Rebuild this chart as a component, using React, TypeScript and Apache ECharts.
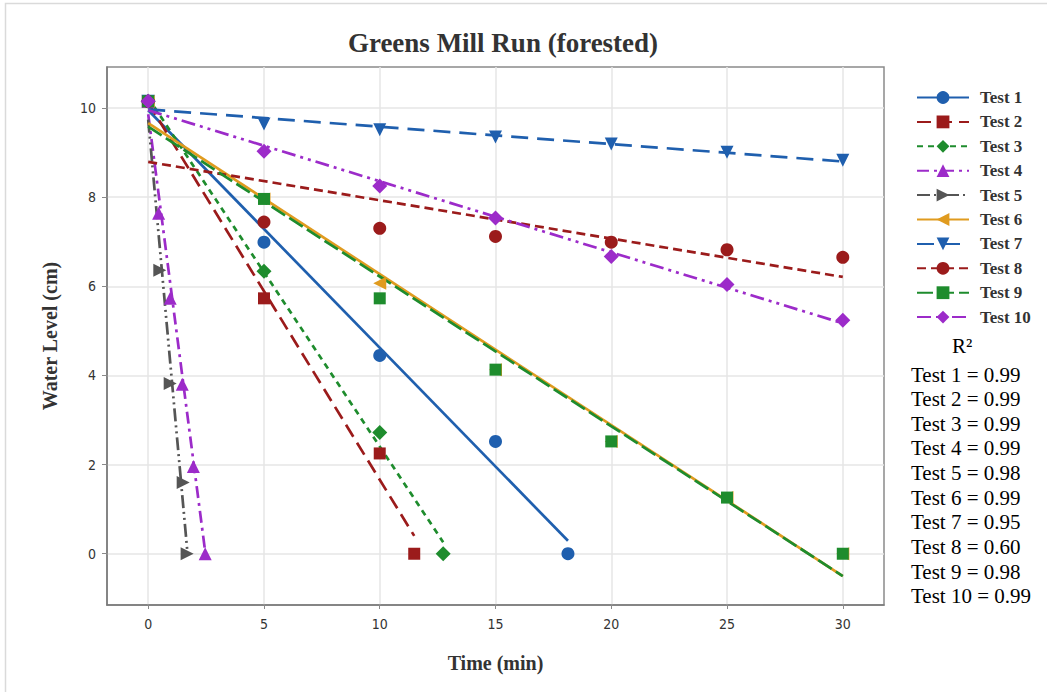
import React, { useEffect, useRef } from "react";
import * as echarts from "echarts";

const chartTitle = "Greens Mill Run (forested)";
const xAxisTitle = "Time (min)";
const yAxisTitle = "Water Level (cm)";

const xTicks = [0, 5, 10, 15, 20, 25, 30];
const yTicks = [0, 2, 4, 6, 8, 10];

const testNames = ["Test 1", "Test 2", "Test 3", "Test 4", "Test 5", "Test 6", "Test 7", "Test 8", "Test 9", "Test 10"];

// measured points (time in min, water level in cm)
const test1Time = [0, 5, 10, 15, 18.13];
const test1Level = [10.15, 6.99, 4.45, 2.52, 0];
const test2Time = [0, 5, 10, 11.49];
const test2Level = [10.15, 5.73, 2.25, 0];
const test3Time = [0, 5, 10, 12.74];
const test3Level = [10.15, 6.34, 2.72, 0];
const test4Time = [0, 0.45, 0.95, 1.47, 1.95, 2.46];
const test4Level = [10.15, 7.64, 5.73, 3.8, 1.96, 0];
const test5Time = [0, 0.5, 0.95, 1.51, 1.68];
const test5Level = [10.15, 6.36, 3.82, 1.6, 0];
const test6Time = [0, 5, 10, 15, 20, 25, 30];
const test6Level = [10.15, 7.96, 6.07, 4.13, 2.52, 1.26, 0];
const test7Time = [0, 5, 10, 15, 20, 25, 30];
const test7Level = [10.15, 9.64, 9.51, 9.35, 9.19, 9.01, 8.83];
const test8Time = [0, 5, 10, 15, 20, 25, 30];
const test8Level = [10.15, 7.44, 7.3, 7.12, 6.99, 6.82, 6.65];
const test9Time = [0, 5, 10, 15, 20, 25, 30];
const test9Level = [10.15, 7.96, 5.73, 4.13, 2.52, 1.26, 0];
const test10Time = [0, 5, 10, 15, 20, 25, 30];
const test10Level = [10.15, 9.03, 8.25, 7.53, 6.67, 6.04, 5.24];

const pointTimes = [test1Time, test2Time, test3Time, test4Time, test5Time, test6Time, test7Time, test8Time, test9Time, test10Time];
const pointLevels = [test1Level, test2Level, test3Level, test4Level, test5Level, test6Level, test7Level, test8Level, test9Level, test10Level];

// fitted regression lines: [start time, start level, end time, end level]
const fitLines = [
  [0, 9.95, 18.13, 0.29],
  [0, 10.12, 11.49, 0.4],
  [0, 10.23, 12.74, 0.26],
  [0, 9.86, 2.46, 0.05],
  [0, 9.74, 1.68, 0.11],
  [0, 9.66, 30, -0.5],
  [0, 9.97, 30, 8.8],
  [0, 8.79, 30, 6.21],
  [0, 9.58, 30, -0.5],
  [0, 9.95, 30, 5.17],
];

const r2Values = [0.99, 0.99, 0.99, 0.99, 0.98, 0.99, 0.95, 0.6, 0.98, 0.99];

const colors = ["#1f5fae", "#9b1b1b", "#1e8c2d", "#9c2bc9", "#555555", "#e09b1f", "#1f5fae", "#9b1b1b", "#1e8c2d", "#9c2bc9"];
const symbols = ["circle", "rect", "diamond", "triangle", "triangle", "triangle", "triangle", "circle", "rect", "diamond"];
const symbolRotates = [0, 0, 0, 0, -90, 90, 180, 0, 0, 0];
const symbolSizes = [13, 12, 15, 13, 13, 13, 13, 13, 12, 15];
const dashes: any[] = [
  "solid",
  [14, 7],
  [6, 5],
  [12, 5, 3, 5],
  [13, 4, 2, 4, 2, 4],
  "solid",
  [17, 9],
  [9, 5],
  [16, 5],
  [14, 5, 3, 5, 3, 5],
];

const serif = "'Liberation Serif', 'Times New Roman', serif";
const tickFont = "'Liberation Sans Narrow', 'DejaVu Sans Condensed', 'Liberation Sans', sans-serif";

export default function App() {
  const ref = useRef<HTMLDivElement>(null);
  useEffect(() => {
    document.body.style.margin = "0";
    const chart = echarts.init(ref.current!, null, { renderer: "svg" });

    const series: any[] = [];
    testNames.forEach((name, i) => {
      const f = fitLines[i];
      series.push({
        name,
        type: "line",
        data: [
          [f[0], f[1]],
          [f[2], f[3]],
        ],
        showSymbol: false,
        symbol: symbols[i],
        symbolRotate: symbolRotates[i],
        symbolSize: symbolSizes[i],
        itemStyle: { color: colors[i] },
        lineStyle: { color: colors[i], width: 2.7, type: dashes[i] },
        z: 2,
        silent: true,
      });
    });
    testNames.forEach((name, i) => {
      series.push({
        name: name + " data",
        type: "scatter",
        data: pointTimes[i].map((t, k) => [t, pointLevels[i][k]]),
        symbol: symbols[i],
        symbolRotate: symbolRotates[i],
        symbolSize: symbolSizes[i],
        itemStyle: { color: colors[i], opacity: 1 },
        z: 3,
      });
    });

    const graphics: any[] = [
      {
        type: "rect",
        shape: { x: 5.5, y: 3.5, width: 1100, height: 720 },
        style: { fill: "none", stroke: "#dadada", lineWidth: 1.5 },
        silent: true,
      },
      {
        type: "text",
        left: 952,
        top: 335,
        style: { text: "R²", font: `21px ${serif}`, fill: "#000" },
      },
    ];
    r2Values.forEach((v, i) => {
      graphics.push({
        type: "text",
        left: 911,
        top: 364 + i * 24.65,
        style: { text: `${testNames[i]} = ${v.toFixed(2)}`, font: `21px ${serif}`, fill: "#000" },
      });
    });

    chart.setOption({
      animation: false,
      backgroundColor: "#ffffff",
      title: {
        text: chartTitle,
        left: 498,
        textAlign: "center",
        top: 24,
        textStyle: { fontFamily: serif, fontWeight: "bold", fontSize: 27, color: "#333" },
      },
      grid: {
        left: 107,
        right: 163,
        top: 67,
        bottom: 87,
        show: true,
        borderColor: "#8a8a8a",
        borderWidth: 1.5,
      },
      legend: {
        data: testNames,
        orient: "vertical",
        left: 916,
        top: 89,
        padding: 0,
        itemWidth: 52,
        itemHeight: 16,
        itemGap: 7.4,
        textStyle: {
          fontFamily: serif,
          fontWeight: "bold",
          fontSize: 17,
          color: "#333",
          padding: [0, 0, 0, 6],
        },
      },
      xAxis: {
        type: "value",
        min: -1.78,
        max: 31.78,
        name: xAxisTitle,
        nameLocation: "middle",
        nameGap: 48,
        nameTextStyle: { fontFamily: serif, fontWeight: "bold", fontSize: 20, color: "#333" },
        axisLine: { show: true, onZero: false, lineStyle: { color: "#7a7a7a", width: 1.5 } },
        axisTick: { show: true, length: 4, customValues: xTicks, lineStyle: { color: "#8a8a8a" } },
        axisLabel: { customValues: xTicks, margin: 12, fontFamily: tickFont, fontSize: 14, color: "#333" },
        splitLine: { show: true, lineStyle: { color: "#e6e6e6", width: 1.5 } },
      },
      yAxis: {
        type: "value",
        min: -1.15,
        max: 10.92,
        name: yAxisTitle,
        nameLocation: "middle",
        nameGap: 47,
        nameTextStyle: { fontFamily: serif, fontWeight: "bold", fontSize: 20, color: "#333" },
        axisLine: { show: true, onZero: false, lineStyle: { color: "#7a7a7a", width: 1.5 } },
        axisTick: { show: true, length: 5, customValues: yTicks, lineStyle: { color: "#8a8a8a" } },
        axisLabel: { customValues: yTicks, margin: 11, fontFamily: tickFont, fontSize: 14, color: "#333" },
        splitLine: { show: true, lineStyle: { color: "#e6e6e6", width: 1.5 } },
      },
      graphic: graphics,
      series,
    });
    return () => chart.dispose();
  }, []);
  return <div ref={ref} style={{ width: 1047, height: 692 }} />;
}
